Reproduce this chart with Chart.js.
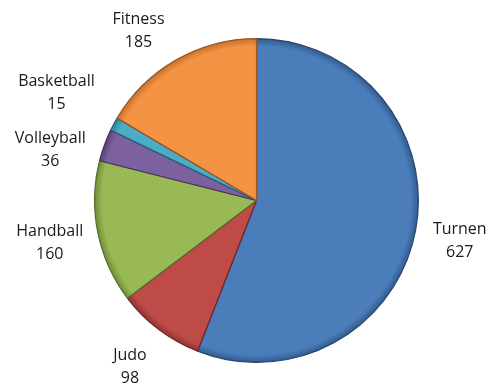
<!DOCTYPE html>
<html>
<head>
<meta charset="utf-8">
<script src="https://cdn.jsdelivr.net/npm/chart.js@4"></script>
<style>body{margin:0;background:#fff}</style>
</head>
<body>
<canvas id="chart_sport" width="500" height="387"></canvas>
<script>
let sportarten = ['Turnen', 'Judo', 'Handball', 'Volleyball', 'Basketball', 'Fitness'];
let mitglieder = [627, 98, 160, 36, 15, 185];

let farben = ['#4a7dba', '#be4b48', '#98b954', '#7d60a0', '#4bacc6', '#f39343'];
let dunkel = ['#30598a', '#8a3230', '#6d8a38', '#573f74', '#2f7f94', '#c46e2c'];
let ränder = ['#25446a', '#6e2725', '#566f2b', '#44315c', '#256575', '#9c5722'];
// kleine Verschiebungen fuer die engen Beschriftungen (Pixel)
let labelShift = [[-3, 0], [0, -2], [-1, 0], [-9, 20], [-15, -10], [-14, 12]];

function verlauf(context) {
    let i = context.dataIndex;
    let chart = context.chart;
    let area = chart.chartArea;
    if (!area) return farben[i];
    let cx = (area.left + area.right) / 2;
    let cy = (area.top + area.bottom) / 2;
    let r = Math.min(area.width, area.height) / 2;
    let g = chart.ctx.createRadialGradient(cx, cy, 0, cx, cy, r);
    g.addColorStop(0, farben[i]);
    g.addColorStop(0.95, farben[i]);
    g.addColorStop(1, dunkel[i]);
    return g;
}

let etiketten = {
    id: 'etiketten',
    afterDatasetsDraw(chart) {
        let ctx = chart.ctx;
        let meta = chart.getDatasetMeta(0);
        ctx.save();
        ctx.font = '16px "Open Sans"';
        ctx.fillStyle = '#1a1a1a';
        ctx.textAlign = 'center';
        ctx.textBaseline = 'alphabetic';
        meta.data.forEach((arc, i) => {
            let p = arc.getProps(['x', 'y', 'startAngle', 'endAngle', 'outerRadius'], true);
            let mitte = (p.startAngle + p.endAngle) / 2;
            let d = p.outerRadius + 48;
            let x = p.x + Math.cos(mitte) * d + labelShift[i][0];
            let y = p.y + Math.sin(mitte) * d + labelShift[i][1];
            ctx.fillText(sportarten[i], x, y - 5.8);
            ctx.fillText(String(mitglieder[i]), x, y + 17.2);
        });
        ctx.restore();
    }
};

let ctx = document.getElementById('chart_sport');

let sport = new Chart(
    ctx, {
        type: 'pie',
        data: {
            labels: sportarten,
            datasets: [{
                data: mitglieder,
                backgroundColor: verlauf,
                borderColor: ränder,
                borderWidth: 1.2
            }]
        },
        options: {
            responsive: false,
            animation: false,
            layout: {
                padding: {left: 94, right: 81, top: 38, bottom: 24}
            },
            plugins: {
                legend: false,
                tooltip: {enabled: false}
            }
        },
        plugins: [etiketten]
    });
</script>
</body>
</html>
